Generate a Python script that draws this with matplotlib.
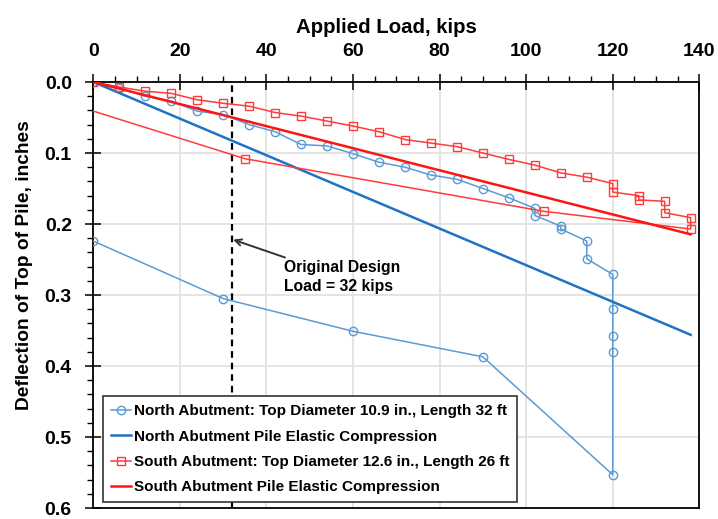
import numpy as np
import matplotlib
matplotlib.use("Agg")
import matplotlib.pyplot as plt
from matplotlib.ticker import MultipleLocator, FormatStrFormatter

plt.rcParams['font.family'] = ['Liberation Sans', 'DejaVu Sans']
plt.rcParams['font.weight'] = 'bold'

# North abutment load test (loading, hold at 120 kips, unloading)
north_load = [0, 6, 12, 18, 24, 30, 36, 42, 48, 54, 60, 66, 72, 78, 84, 90, 96,
              102, 102, 108, 108, 114, 114, 120, 120, 120, 120, 120, 90, 60, 30, 0]
north_defl = [0, 0.009, 0.020, 0.027, 0.041, 0.046, 0.060, 0.070, 0.088, 0.090,
              0.101, 0.113, 0.120, 0.131, 0.137, 0.150, 0.163, 0.178, 0.188, 0.203,
              0.207, 0.224, 0.249, 0.271, 0.319, 0.357, 0.380, 0.553, 0.387, 0.351,
              0.305, 0.224]

# South abutment load test
south_load = [0, 6, 12, 18, 24, 30, 36, 42, 48, 54, 60, 66, 72, 78, 84, 90, 96,
              102, 108, 114, 120, 120, 126, 126, 132, 132, 138, 138, 104, 35, 0]
south_defl = [0, 0.007, 0.013, 0.016, 0.025, 0.030, 0.034, 0.043, 0.048, 0.055,
              0.062, 0.070, 0.081, 0.086, 0.091, 0.100, 0.109, 0.117, 0.128, 0.134,
              0.143, 0.155, 0.160, 0.166, 0.168, 0.184, 0.191, 0.207, 0.182, 0.108,
              0.041]

# Elastic compression of the piles
elastic_load = [0, 138]
north_elastic = [0, 0.356]
south_elastic = [0, 0.2145]

design_load = 32

fig = plt.figure(figsize=(7.18, 5.19), dpi=100)
ax = fig.add_axes([0.130, 0.021, 0.844, 0.821])

blue_data = '#5b9bd5'
blue_el = '#1f72c4'
red_data = '#ff3b3b'
red_el = '#ff1414'

ax.axvline(design_load, color='black', lw=1.6, ls=(0, (3, 2.2)), zorder=1)

ax.plot(north_load, north_defl, color=blue_data, lw=1.1, marker='o', ms=6,
        mfc='none', mec=blue_data, mew=1.0, zorder=3,
        label='North Abutment: Top Diameter 10.9 in., Length 32 ft')
ax.plot(elastic_load, north_elastic, color=blue_el, lw=1.8, zorder=3,
        label='North Abutment Pile Elastic Compression')
ax.plot(south_load, south_defl, color=red_data, lw=1.1, marker='s', ms=6,
        mfc='none', mec=red_data, mew=1.0, markevery=list(range(len(south_load) - 1)),
        zorder=4, label='South Abutment: Top Diameter 12.6 in., Length 26 ft')
ax.plot(elastic_load, south_elastic, color=red_el, lw=1.8, zorder=4,
        label='South Abutment Pile Elastic Compression')

ax.annotate('Original Design\nLoad = 32 kips', xy=(32.3, 0.222), xytext=(44.0, 0.251),
            fontsize=11.3, fontweight='bold', ha='left', va='top', linespacing=1.3,
            arrowprops=dict(arrowstyle='->', color='#333333', lw=1.4,
                            shrinkA=0, shrinkB=0))

ax.set_xlim(0, 140)
ax.set_ylim(0.6, 0.0)
ax.xaxis.tick_top()
ax.xaxis.set_label_position('top')
ax.xaxis.set_major_locator(MultipleLocator(20))
ax.xaxis.set_minor_locator(MultipleLocator(5))
ax.yaxis.set_major_locator(MultipleLocator(0.1))
ax.yaxis.set_minor_locator(MultipleLocator(0.02))
ax.yaxis.set_major_formatter(FormatStrFormatter('%.1f'))

ax.tick_params(which='major', direction='inout', length=11, width=1.1,
               labelsize=14, pad=10)
ax.tick_params(axis='y', which='major', pad=10)
ax.tick_params(which='minor', direction='out', length=4, width=1.0)
for lab in ax.get_xticklabels() + ax.get_yticklabels():
    lab.set_fontweight('bold')

ax.grid(True, which='major', color='#e2e2e2', lw=1.3)
ax.set_axisbelow(True)
for s in ax.spines.values():
    s.set_linewidth(1.3)

ax.set_xlabel('Applied Load, kips', fontsize=14.7, fontweight='bold')
ax.xaxis.set_label_coords(0.483, 1.114)
ax.set_ylabel('Deflection of Top of Pile, inches', fontsize=13.8, fontweight='bold')
ax.yaxis.set_label_coords(-0.10, 0.57)

leg = ax.legend(loc='lower left', bbox_to_anchor=(0.016, 0.014), borderaxespad=0,
                fontsize=11.0, frameon=True, fancybox=False, framealpha=1,
                edgecolor='#333333', handlelength=1.3, handletextpad=0.2,
                labelspacing=0.75, borderpad=0.5)
leg.get_frame().set_linewidth(1.2)
leg.set_zorder(5)
for t in leg.get_texts():
    t.set_fontweight('bold')

fig.savefig('out.png', dpi=100, facecolor='white')
